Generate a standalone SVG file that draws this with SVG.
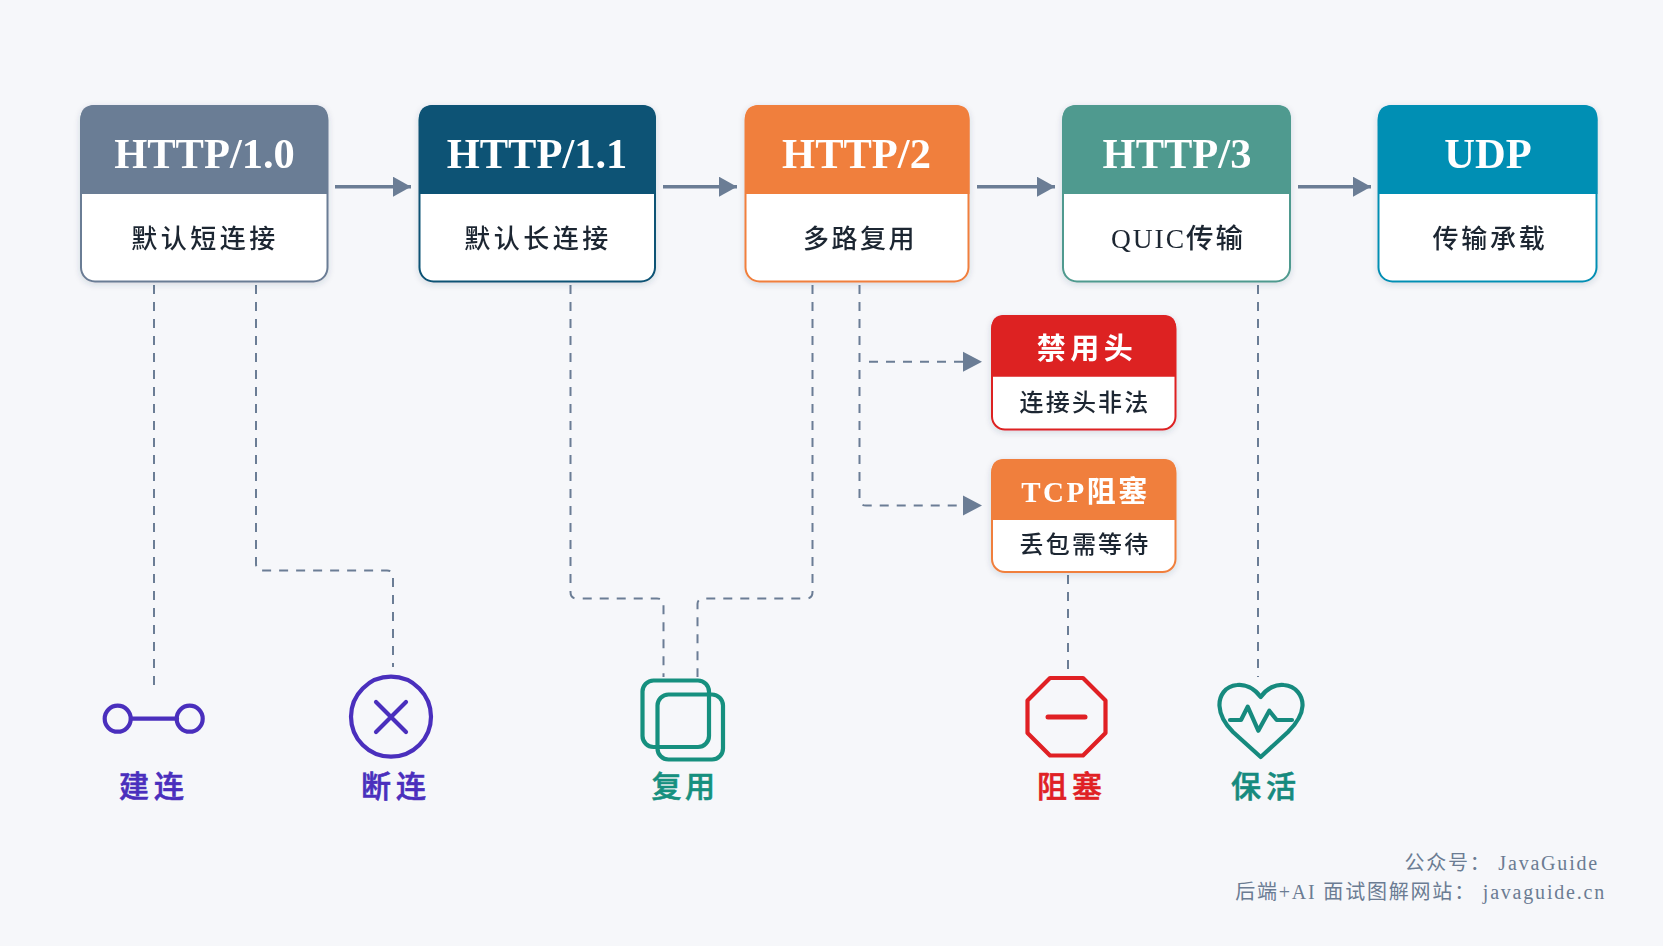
<svg xmlns="http://www.w3.org/2000/svg" width="1663" height="946" viewBox="0 0 1663 946">
<style>
text{text-anchor:middle}
.h{font:700 42.500px "Liberation Serif","Noto Sans CJK SC",serif;fill:#fff}
.b{font:500 26px "Liberation Serif","Noto Sans CJK SC",sans-serif;fill:#1c2530;letter-spacing:3.500px}
.sh{font:700 29px "Liberation Serif","Noto Sans CJK SC",serif;fill:#fff;letter-spacing:4.500px}
.sb{font:500 24px "Liberation Serif","Noto Sans CJK SC",sans-serif;fill:#1c2530;letter-spacing:2.200px}
.l{font:500 30px "Noto Sans CJK SC",sans-serif;letter-spacing:5px;stroke-width:0.600px}
.f{font:400 20px "Liberation Serif","Noto Sans CJK SC",serif;fill:#6b7c93;letter-spacing:1.800px;text-anchor:end}
.card{fill:#fff;stroke-width:2}
.solid{fill:none;stroke:#6b7d95;stroke-width:3.500}
.dash{fill:none;stroke:#6b7d95;stroke-width:2;stroke-dasharray:9 8}
.ico{fill:none;stroke-width:4.200;stroke-linecap:round;stroke-linejoin:round}
</style>
<defs>
<filter id="s" x="-10%" y="-10%" width="120%" height="120%"><feDropShadow dx="0" dy="2" stdDeviation="3" flood-color="#334155" flood-opacity="0.16"/></filter>
<marker id="a" markerUnits="userSpaceOnUse" markerWidth="18" markerHeight="20" refX="18" refY="10" orient="auto"><path d="M0 0L18 10L0 20Z" fill="#6b7d95"/></marker>
</defs>
<rect width="1663" height="946" fill="#f6f7fa"/>
<g id="connectors">
<path class="solid" marker-end="url(#a)" d="M335 186.700H411"/>
<path class="solid" marker-end="url(#a)" d="M663 186.700H737"/>
<path class="solid" marker-end="url(#a)" d="M977 186.700H1055"/>
<path class="solid" marker-end="url(#a)" d="M1298 186.700H1371"/>
<path class="dash" d="M154 285V688"/>
<path class="dash" d="M256 285V564Q256 570.500 262 570.500H387Q393 570.500 393 576V667"/>
<path class="dash" d="M570.500 285V592Q570.500 598.500 577 598.500H657Q663.500 598.500 663.500 604V677"/>
<path class="dash" d="M812.500 285V592Q812.500 598.500 806 598.500H704Q697.500 598.500 697.500 604V677"/>
<path class="dash" d="M859.500 285V499Q859.500 505.500 866 505.500H966"/>
<path class="dash" d="M869 361.700H966"/>
<path d="M963 351.700L982 361.700L963 371.700Z M963 495.500L982 505.500L963 515.500Z" fill="#6b7d95"/>
<path class="dash" d="M1068 575V673"/>
<path class="dash" d="M1258 285V677"/>
</g>
<g id="n-http10" filter="url(#s)">
<rect class="card" x="81" y="106" width="246.500" height="175.500" rx="14" stroke="#6b7d95"/>
<path d="M80.500 194V119Q80.500 105 94.500 105H314Q328 105 328 119V194Z" fill="#6b7d95"/>
<text class="h" x="204.500" y="168">HTTP/1.0</text><text class="b" x="205" y="248">默认短连接</text>
</g>
<g id="n-http11" filter="url(#s)">
<rect class="card" x="419.500" y="106" width="235.500" height="175.500" rx="14" stroke="#0a5274"/>
<path d="M419 194V119Q419 105 433 105H642Q656 105 656 119V194Z" fill="#0a5274"/>
<text class="h" x="537" y="168">HTTP/1.1</text><text class="b" x="538" y="248">默认长连接</text>
</g>
<g id="n-http2" filter="url(#s)">
<rect class="card" x="745.500" y="106" width="223" height="175.500" rx="14" stroke="#f07f3c"/>
<path d="M745 194V119Q745 105 759 105H955.500Q969.500 105 969.500 119V194Z" fill="#f07f3c"/>
<text class="h" x="856.500" y="168">HTTP/2</text><text class="b" x="860" y="248" style="letter-spacing:2.500px">多路复用</text>
</g>
<g id="n-http3" filter="url(#s)">
<rect class="card" x="1063" y="106" width="227" height="175.500" rx="14" stroke="#4f9a8f"/>
<path d="M1062.500 194V119Q1062.500 105 1076.500 105H1277Q1291 105 1291 119V194Z" fill="#4f9a8f"/>
<text class="h" x="1177" y="168">HTTP/3</text><text class="b" x="1178" y="248" style="font-size:27.500px;letter-spacing:2px">QUIC传输</text>
</g>
<g id="n-udp" filter="url(#s)">
<rect class="card" x="1378.500" y="106" width="218" height="175.500" rx="14" stroke="#068fb4"/>
<path d="M1378 194V119Q1378 105 1392 105H1583.500Q1597.500 105 1597.500 119V194Z" fill="#068fb4"/>
<text class="h" x="1488" y="168">UDP</text><text class="b" x="1490" y="248" style="letter-spacing:2.700px">传输承载</text>
</g>
<g id="n-ban" filter="url(#s)">
<rect class="card" x="992" y="316" width="183.500" height="113.500" rx="13" stroke="#dd2022"/>
<path d="M991.500 376.700V328Q991.500 315 1004.500 315H1163Q1176 315 1176 328V376.700Z" fill="#dd2022"/>
<text class="sh" x="1087" y="359">禁用头</text><text class="sb" x="1085" y="411">连接头非法</text>
</g>
<g id="n-tcp" filter="url(#s)">
<rect class="card" x="992" y="460" width="183.500" height="112" rx="13" stroke="#f07f3c"/>
<path d="M991.500 520V472Q991.500 459 1004.500 459H1163Q1176 459 1176 472V520Z" fill="#f07f3c"/>
<text class="sh" x="1085.500" y="502" style="font-size:29px;letter-spacing:2.500px">TCP阻塞</text><text class="sb" x="1085" y="553">丢包需等待</text>
</g>
<g id="i-connect" stroke="#4a2fbd">
<circle class="ico" cx="117.700" cy="718.700" r="13"/><circle class="ico" cx="189.700" cy="718.700" r="13"/>
<path class="ico" d="M131 718.700H177"/>
<text class="l" x="154" y="797" fill="#4a2fbd">建连</text>
</g>
<g id="i-close" stroke="#4a2fbd">
<circle class="ico" cx="391" cy="716.700" r="40"/><path class="ico" d="M376 702L406 732M406 702L376 732"/>
<text class="l" x="396" y="797" fill="#4a2fbd">断连</text>
</g>
<g id="i-reuse" stroke="#16907f">
<rect class="ico" x="642.500" y="680.500" width="66.500" height="66.500" rx="11"/><rect class="ico" x="657.500" y="694.500" width="65.500" height="65" rx="11"/>
<text class="l" x="685" y="797" fill="#16907f" style="letter-spacing:3.500px">复用</text>
</g>
<g id="i-block" stroke="#e02024">
<path class="ico" d="M1050 678H1083L1105.500 700.500V733L1083 755.500H1050L1027.500 733V700.500Z"/><path class="ico" style="stroke-width:5" d="M1048 717H1085"/>
<text class="l" x="1072" y="797" fill="#e02024">阻塞</text>
</g>
<g id="i-keep" stroke="#168a7e">
<path class="ico" d="M1260.700 697C1254 688 1245 684 1237 685C1225 686 1219 696 1219.500 706C1220 716 1226 725 1233 732L1260.700 757L1288 732C1295 725 1302 716 1302.500 706C1303 696 1296 686 1284 685C1276 684 1267 688 1260.700 697Z"/>
<path class="ico" d="M1230 720H1241L1247.700 706.700L1258.300 730.700L1269.300 710.700L1276.700 720H1292"/>
<text class="l" x="1266" y="797" fill="#168a7e">保活</text>
</g>
<g id="footer">
<text class="f" x="1599" y="870">公众号： JavaGuide</text>
<text class="f" x="1606" y="899">后端+AI 面试图解网站： javaguide.cn</text>
</g>
</svg>
